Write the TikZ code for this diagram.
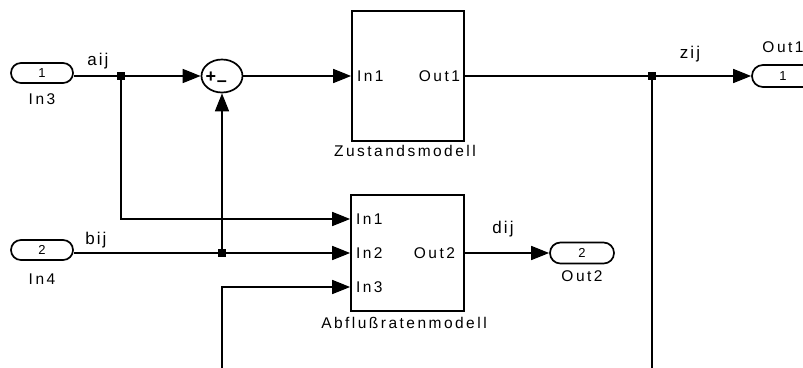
\documentclass[tikz,border=0pt]{standalone}
\usepackage{fontspec}
\setmainfont{Liberation Sans}
\newfontfamily\blkfont[LetterSpace=16]{Liberation Sans}
\newfontfamily\sigfont[LetterSpace=12]{Liberation Sans}
\usetikzlibrary{shapes.geometric,arrows.meta}

\begin{document}
\begin{tikzpicture}[x=1pt,y=-1pt,line width=1.7pt,
port/.style={draw,rectangle,rounded corners=9.9pt,minimum width=62pt,minimum height=20pt,inner sep=0pt,font=\fontsize{13}{13}\selectfont},
block/.style={draw,rectangle,inner sep=0pt},
sumnode/.style={draw,ellipse,minimum width=41pt,minimum height=33pt,inner sep=0pt},
junc/.style={fill=black,rectangle,minimum size=7.5pt,inner sep=0pt},
sig/.style={-{Triangle[length=18pt,width=14pt]}},
lab/.style={font=\blkfont\fontsize{15.5}{15.5}\selectfont,inner sep=0pt},
signame/.style={font=\sigfont\fontsize{17}{17}\selectfont,inner sep=0pt,anchor=base}]
\useasboundingbox (0,0) rectangle (803,367);
\clip (0,0) rectangle (803,367);

\newcommand{\rowz}{76}
\newcommand{\rowd}{253}

% in- and outports
\node [port] (in3) at (42,73) {1};
\node [lab] at (42,99) {In3};
\node [port] (in4) at (42,250) {2};
\node [lab] at (42,279) {In4};
\node [port,minimum height=22pt,rounded corners=10.9pt] (out1) at (783,\rowz) {1};
\node [lab] at (783,47) {Out1};
\node [port,minimum width=64pt,minimum height=21pt,rounded corners=10.4pt] (out2) at (582,\rowd) {2};
\node [lab] at (582,276) {Out2};

% sum
\node [sumnode] (sum) at (222,\rowz) {};
\node [font=\fontsize{18}{18}\selectfont\bfseries,inner sep=0pt] at (211,77) {+};
\node [font=\fontsize{18}{18}\selectfont\bfseries,inner sep=0pt] at (222,84) {--};

% subsystems
\node [block,minimum width=112pt,minimum height=130pt] (zust) at (408,\rowz) {};
\node [lab,anchor=west] at ([xshift=5pt]zust.west) {In1};
\node [lab,anchor=east] at ([xshift=-4pt]zust.east) {Out1};
\node [lab] at (405,151) {Zustandsmodell};

\node [block,minimum width=113pt,minimum height=116pt] (abfl) at (407.5,\rowd) {};
\foreach \k/\dy in {1/34,2/0,3/-34}{
\coordinate (abin\k) at ([yshift=\dy pt]abfl.west);
\node [lab,anchor=west] at ([xshift=5pt]abin\k) {In\k};
}
\node [lab,anchor=east] at ([xshift=-9pt]abfl.east) {Out2};
\node [lab] at (404,323) {Abflußratenmodell};

% branch points
\node [junc] (j1) at (121,\rowz) {};
\node [junc] (j2) at (222,\rowd) {};
\node [junc] (j3) at (652,\rowz) {};
\coordinate (abot) at (222,372);
\coordinate (zbot) at (652,372);

% signals
\draw (in3.east |- j1) -- (j1.center);
\draw [sig] (j1.center) -- (sum);
\draw [sig] (sum) -- (zust);
\draw (zust) -- (j3.center);
\draw [sig] (j3.center) -- (out1);
\draw (j3.center) -- (zbot);
\draw [sig] (j1.center) |- (abin1);
\draw (in4.east |- j2) -- (j2.center);
\draw [sig] (j2.center) -- (abin2);
\draw [sig] (j2.center) -- (sum);
\draw [sig] (abot) |- (abin3);
\draw [sig] (abfl.east) -- (out2);

\node [signame] at (98,65) {aij};
\node [signame] at (96,244) {bij};
\node [signame] at (690,58) {zij};
\node [signame] at (503,233) {dij};
\end{tikzpicture}
\end{document}
